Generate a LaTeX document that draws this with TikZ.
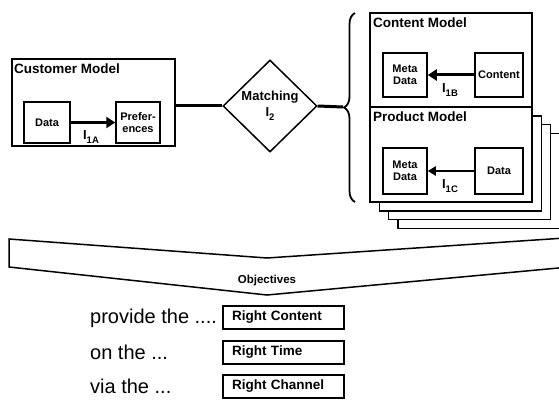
\documentclass[tikz,border=0pt]{standalone}
\usepackage{fontspec}
\setmainfont{Liberation Sans}
\usepackage{tikz}
\usetikzlibrary{shapes.geometric,arrows.meta,decorations.pathreplacing}
\newcommand{\idxsub}[1]{I\raisebox{-4.5pt}{\fontsize{9.5}{10}\selectfont #1}}

\begin{document}
\begin{tikzpicture}[x=1pt,y=-1pt,
    box/.style={draw,line width=1.5pt,fill=white,inner sep=0pt},
    small/.style={box,align=center,font=\fontsize{11}{12}\selectfont\bfseries},
    title/.style={anchor=north west,inner sep=0pt,font=\fontsize{13.5}{15}\selectfont\bfseries},
    idx/.style={inner sep=0pt,font=\fontsize{13}{14}\selectfont\bfseries},
    goal/.style={box,minimum width=121,minimum height=23,text width=103,inner xsep=9pt,align=left,font=\fontsize{13.5}{14}\selectfont\bfseries},
    plain/.style={anchor=west,inner sep=0pt,font=\fontsize{20}{22}\selectfont}]
    \useasboundingbox (0,0) rectangle (559,401);
    \clip (0,0) rectangle (559,401);

    % customer model
    \node[box,minimum width=163,minimum height=87] (cust) at (93.5,102.5) {};
    \node[title] (custT) at (14,64) {Customer Model};
    \node[small,minimum width=46,minimum height=41] (data) at (47,122.5) {Data};
    \node[small,minimum width=44,minimum height=41] (pref) at (138,122.5) {Prefer-\\ences};
    \draw[line width=3pt,-{Triangle[length=9pt,width=11pt]}] (data) -- (pref);
    \node[idx] (iA) at (91,137) {\idxsub{1A}};

    % matching
    \node[draw,diamond,line width=1.5pt,inner sep=0pt,minimum width=94,minimum height=92,align=center,
          font=\fontsize{13}{16}\selectfont\bfseries] (match) at (270,106) {Matching\\\idxsub{2}};
    \draw[line width=3pt] (match.west) -- (match.west -| cust.east);
    \coordinate (tip) at (343,107);
    \draw[line width=3pt] (match.east) -- (tip);
    \draw[line width=1.8pt,decoration={brace,amplitude=11pt},decorate] (355,202) -- (355,13);

    % stacked product models
    \foreach \k in {3,2,1}
        \draw[line width=1.5pt,fill=white] (370+9.3*\k,107+8.8*\k) rectangle ++(162,95);
    \node[box,minimum width=162,minimum height=95] (prod) at (451,154.5) {};
    \node[title] (prodT) at (373,112) {Product Model};
    \node[small,minimum width=44,minimum height=46] (meta2) at (405,171) {Meta\\Data};
    \node[small,minimum width=48,minimum height=46] (data2) at (499,171) {Data};
    \draw[line width=2pt,-{Triangle[length=8pt,width=9pt]}] (data2) -- (meta2);
    \node[idx] (iC) at (450,186) {\idxsub{1C}};

    % content model
    \node[box,minimum width=162,minimum height=94] (cont) at (451,60) {};
    \node[title] (contT) at (373,18) {Content Model};
    \node[small,minimum width=44,minimum height=44] (meta1) at (405,75) {Meta\\Data};
    \node[small,minimum width=48,minimum height=44] (cont1) at (499,75) {Content};
    \draw[line width=3pt,-{Triangle[length=9pt,width=11pt]}] (cont1) -- (meta1);
    \node[idx] (iB) at (450,90) {\idxsub{1B}};

    % objectives
    \draw[line width=1.5pt] (9,239) -- (267,258) -- (580,237) -- (580,266) -- (267,295) -- (9,267) -- cycle;
    \node[inner sep=0pt,font=\fontsize{11.5}{13}\selectfont\bfseries] (obj) at (267,281) {Objectives};

    \node[plain] (p1) at (90,318) {provide the ....};
    \node[plain] (p2) at (90,352) {on the ...};
    \node[plain] (p3) at (90,386) {via the ...};
    \node[goal] (g1) at (283.5,317.5) {Right Content};
    \node[goal] (g2) at (283.5,352.5) {Right Time};
    \node[goal] (g3) at (283.5,386.5) {Right Channel};
\end{tikzpicture}
\end{document}
